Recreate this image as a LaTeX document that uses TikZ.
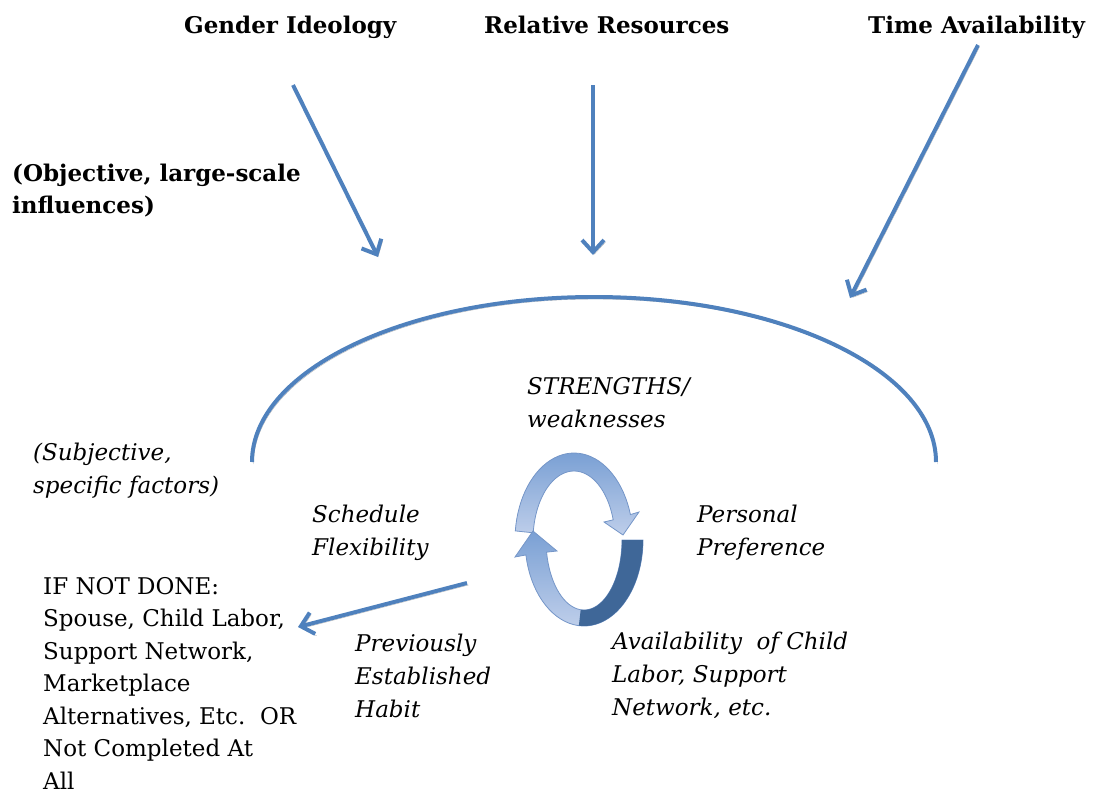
\documentclass[tikz,border=0pt]{standalone}
\usepackage{fontspec}
\setmainfont{DejaVu Serif}
\usepackage{tikz}
\usetikzlibrary{arrows.meta}

\definecolor{officeblue}{RGB}{79,129,189}
\definecolor{ringedge}{RGB}{117,150,200}
\definecolor{ringmid}{RGB}{122,160,212}
\definecolor{ringlight}{RGB}{190,206,234}
\definecolor{ringdark}{RGB}{63,103,152}

\begin{document}
\begin{tikzpicture}[x=1pt, y=-1pt, >={Straight Barb[length=12pt,width=22pt]},
    heading/.style={anchor=base west, inner sep=0pt, align=left, font=\fontsize{23}{32}\selectfont\bfseries},
    remark/.style={anchor=base west, inner sep=0pt, align=left, font=\fontsize{23}{33}\selectfont\itshape},
    outcome/.style={anchor=base west, inner sep=0pt, align=left, font=\fontsize{23}{32.5}\selectfont},
    dropline/.style={preaction={draw=black!30, transform canvas={shift={(1.5pt,-2pt)}}}},
    influence/.style={draw=officeblue, line width=4pt, ->, dropline}]
    \useasboundingbox (0,0) rectangle (1104,796);

    % large-scale influences (multi-line nodes sit on their last baseline)
    \node[heading] (gender) at (184,33) {Gender Ideology};
    \node[heading] (resources) at (484,33) {Relative Resources};
    \node[heading] (time) at (868,33) {Time Availability};
    \node[heading] (objective) at (12,213) {(Objective, large-scale\\influences)};

    \coordinate (gender-from) at (293,85);
    \coordinate (gender-to) at (378,257);
    \coordinate (resources-from) at (593,85);
    \coordinate (resources-to) at (593,255);
    \coordinate (time-from) at (978,45);
    \coordinate (time-to) at (850,298);
    \foreach \f in {gender,resources,time} {%
        \draw[influence] (\f-from) -- (\f-to);
    }

    % the household
    \draw[officeblue, line width=4pt, dropline] (252,462) arc[start angle=180, end angle=360, x radius=342, y radius=165];

    % subjective factors
    \node[remark] (subjective) at (33,493) {(Subjective,\\specific factors)};
    \node[remark] (strengths) at (527,427) {STRENGTHS/\\weaknesses};
    \node[remark] (schedule) at (312,555) {Schedule\\Flexibility};
    \node[remark] (personal) at (697,555) {Personal\\Preference};
    \node[remark] (habit) at (355,717) {Previously\\Established\\Habit};
    \node[remark] (childlabor) at (612,715) {Availability\ \ of Child\\Labor, Support\\Network, etc.};

    % cycle arrows
    \draw[ringedge, line width=0.8pt, top color=ringmid, bottom color=ringlight]
        plot[domain=174:17, samples=40] ({574+59*cos(\x)},{540-87*sin(\x)})
        -- (639,512) -- (623,535) -- (604,522)
        -- plot[domain=17:174, samples=40] ({574+41*cos(\x)},{540-69*sin(\x)}) -- cycle;
    \draw[ringedge, line width=0.8pt, top color=ringmid, bottom color=ringlight]
        plot[domain=0:-170, samples=40] ({584+59*cos(\x)},{540-86*sin(\x)})
        -- (515,557) -- (533,531) -- (557,551)
        -- plot[domain=-170:0, samples=40] ({584+38*cos(\x)},{540-70*sin(\x)}) -- cycle;
    \fill[ringdark]
        plot[domain=0:-95, samples=30] ({584+59*cos(\x)},{540-86*sin(\x)})
        -- plot[domain=-95:0, samples=30] ({584+38*cos(\x)},{540-70*sin(\x)}) -- cycle;

    % fallback
    \node[outcome] (notdone) at (43,789) {IF NOT DONE:\\Spouse, Child Labor,\\Support Network,\\Marketplace\\Alternatives, Etc.\ \ OR\\Not Completed At\\All};
    \coordinate (habit-out) at (467,583);
    \coordinate (notdone-in) at (298,627);
    \draw[influence] (habit-out) -- (notdone-in);
\end{tikzpicture}
\end{document}
